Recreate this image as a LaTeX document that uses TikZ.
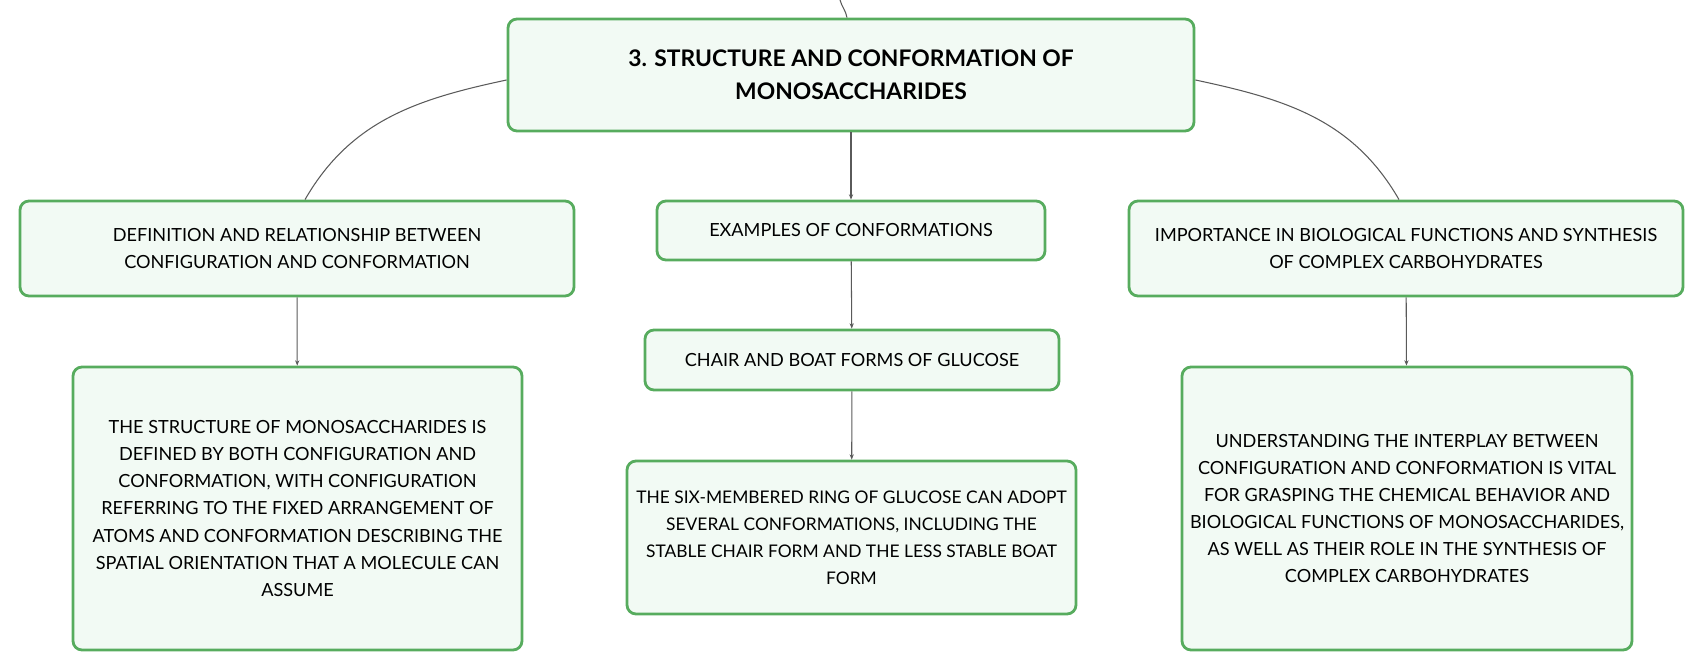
\documentclass[tikz,border=0pt]{standalone}
\usepackage{fontspec}
\setmainfont{Lato}
\usetikzlibrary{arrows.meta}
\definecolor{boxgreen}{HTML}{57AC5E}
\definecolor{boxfill}{HTML}{F2FAF4}
\definecolor{linegray}{HTML}{5A5A5A}
\begin{document}
\begin{tikzpicture}[
  box/.style={rectangle, rounded corners=0.18cm, draw=boxgreen, line width=1.6pt, fill=boxfill, align=center, font=\fontsize{10.3}{15.4}\selectfont, inner sep=0pt},
  link/.style={draw=linegray, line width=0.6pt},
  arrow/.style={link, -{Stealth[length=3pt,width=2.4pt]}}
]
\useasboundingbox (0,0) rectangle (34.08,-13.40);

\node[box, minimum width=13.72cm, minimum height=2.24cm, font=\fontsize{13}{18.8}\selectfont\bfseries] (title) at (17.02,-1.50) {3. STRUCTURE AND CONFORMATION OF\\MONOSACCHARIDES};
\node[box, minimum width=11.08cm, minimum height=1.90cm] (defin) at (5.94,-4.97) {DEFINITION AND RELATIONSHIP BETWEEN\\CONFIGURATION AND CONFORMATION};
\node[box, minimum width=7.76cm, minimum height=1.18cm] (examples) at (17.02,-4.61) {EXAMPLES OF CONFORMATIONS};
\node[box, minimum width=11.08cm, minimum height=1.90cm] (import) at (28.12,-4.97) {IMPORTANCE IN BIOLOGICAL FUNCTIONS AND SYNTHESIS\\OF COMPLEX CARBOHYDRATES};
\node[box, minimum width=8.98cm, minimum height=5.66cm] (structure) at (5.95,-10.17) {THE STRUCTURE OF MONOSACCHARIDES IS\\DEFINED BY BOTH CONFIGURATION AND\\CONFORMATION, WITH CONFIGURATION\\REFERRING TO THE FIXED ARRANGEMENT OF\\ATOMS AND CONFORMATION DESCRIBING THE\\SPATIAL ORIENTATION THAT A MOLECULE CAN\\ASSUME};
\node[box, minimum width=8.28cm, minimum height=1.20cm] (chair) at (17.04,-7.20) {CHAIR AND BOAT FORMS OF GLUCOSE};
\node[box, minimum width=8.98cm, minimum height=3.06cm, font=\fontsize{9.9}{15.4}\selectfont] (ring) at (17.03,-10.75) {THE SIX-MEMBERED RING OF GLUCOSE CAN ADOPT\\SEVERAL CONFORMATIONS, INCLUDING THE\\STABLE CHAIR FORM AND THE LESS STABLE BOAT\\FORM};
\node[box, minimum width=9.00cm, minimum height=5.66cm] (interplay) at (28.14,-10.17) {UNDERSTANDING THE INTERPLAY BETWEEN\\CONFIGURATION AND CONFORMATION IS VITAL\\FOR GRASPING THE CHEMICAL BEHAVIOR AND\\BIOLOGICAL FUNCTIONS OF MONOSACCHARIDES,\\AS WELL AS THEIR ROLE IN THE SYNTHESIS OF\\COMPLEX CARBOHYDRATES};

% Curved links
\coordinate (parent) at (16.80,0);
\draw[link] (parent) to[out=-75,in=100] ([xshift=-0.08cm]title.north);
\draw[link] ([yshift=-0.10cm]title.west) to[out=192,in=60] ([xshift=0.16cm]defin.north);
\draw[link] ([yshift=-0.10cm]title.east) to[out=-12,in=120] ([xshift=-0.14cm]import.north);

% Arrows
\draw[arrow] (title) -- (examples);
\draw[arrow] (defin) -- (structure);
\draw[arrow] (examples) -- (chair);
\draw[arrow] (chair) -- (ring);
\draw[arrow] (import) -- (interplay);

\end{tikzpicture}
\end{document}
